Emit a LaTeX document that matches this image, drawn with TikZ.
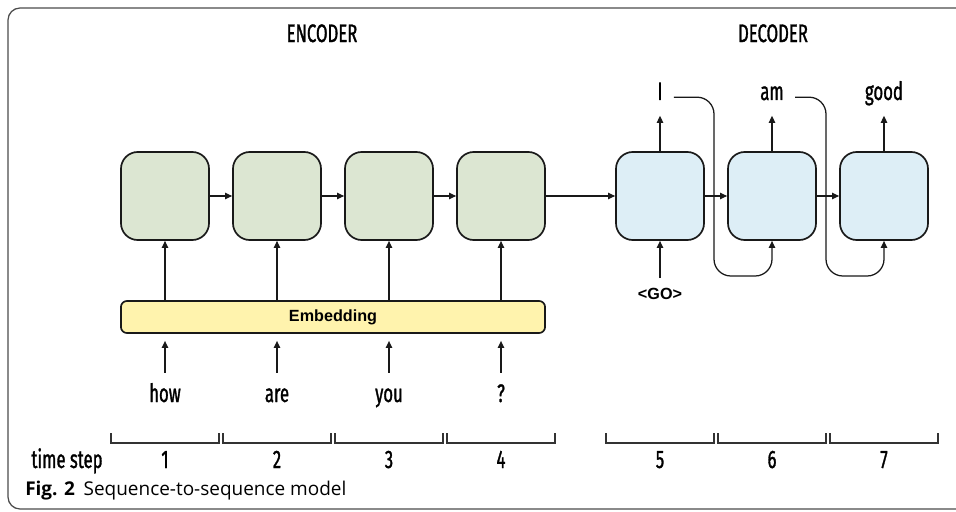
\documentclass[tikz,border=0pt]{standalone}
\usepackage{fontspec}
\setmainfont{Fira Sans}
\newfontfamily\condfont[FakeStretch=0.66, FakeBold=1.2]{Fira Sans}
\newfontfamily\capfont{Open Sans}
\newfontfamily\embfont{Liberation Sans}
\usetikzlibrary{positioning, calc, arrows.meta}

\definecolor{enccol}{RGB}{220,230,210}
\definecolor{deccol}{RGB}{221,238,246}
\definecolor{embcol}{RGB}{255,243,173}

\tikzset{
  cell/.style={draw=black!90, line width=1.2pt, rounded corners=0.42cm,
    minimum width=2.2cm, minimum height=2.2cm, inner sep=0pt},
  enccell/.style={cell, fill=enccol},
  deccell/.style={cell, fill=deccol},
  lab/.style={font=\condfont\fontsize{18}{18}\selectfont, inner sep=1pt,
    text height=13.5pt, text depth=3.5pt},
  arr/.style={-{Triangle[length=5pt,width=4.5pt]}, line width=0.9pt, black!90},
  brk/.style={line width=1pt, black!80},
}

\begin{document}
\begin{tikzpicture}[x=0.025cm, y=-0.025cm]
    \clip (0,0) rectangle (956,512);

    % outer frame
    \draw[black!70, line width=0.9pt, rounded corners=0.3cm] (8,8) rectangle (990,509);

    % headings
    \node[lab] (enchead) at (322,35) {ENCODER};
    \node[lab] (dechead) at (773,35) {DECODER};

    % encoder cells
    \foreach \i/\x in {1/165,2/277,3/389,4/501}
        \node[enccell] (e\i) at (\x,196) {};

    % decoder cells
    \foreach \i/\x in {1/660,2/772,3/884}
        \node[deccell] (d\i) at (\x,196) {};

    % embedding layer
    \node[draw=black!90, line width=1.2pt, fill=embcol, rounded corners=0.15cm,
          minimum width=10.6cm, minimum height=0.8cm, inner sep=0pt,
          font=\embfont\bfseries\fontsize{11.5}{11.5}\selectfont] (emb) at (333,317) {Embedding};

    % input words
    \node[lab, anchor=base] (w1) at (165,402) {how};
    \node[lab, anchor=base] (w2) at (277,402) {are};
    \node[lab, anchor=base] (w3) at (389,402) {you};
    \node[lab, anchor=base] (w4) at (501,402) {?};

    % output words
    \node[lab, anchor=base] (o1) at (660,100) {I};
    \node[lab, anchor=base] (o2) at (772,100) {am};
    \node[lab, anchor=base] (o3) at (884,100) {good};

    % start token
    \node[inner sep=1pt, font=\embfont\bfseries\fontsize{11.5}{11.5}\selectfont] (go) at (660,294) {<GO>};

    % recurrent links
    \foreach \i/\j in {1/2,2/3,3/4}
        \draw[arr] (e\i) -- (e\j);
    \draw[arr] (e4) -- (d1);
    \draw[arr] (d1) -- (d2);
    \draw[arr] (d2) -- (d3);

    % inputs through the embedding
    \foreach \i in {1,...,4} {
        \draw[arr, shorten <=6pt, shorten >=5pt] (w\i.north) -- (emb.south -| w\i.north);
        \draw[arr] (emb.north -| e\i) -- (e\i.south);
    }

    % decoder outputs
    \foreach \i in {1,2,3}
        \draw[arr, shorten >=6.5pt] (d\i.north) -- (o\i.south);
    \draw[arr, shorten <=6pt] (go.north) -- (d1.south);

    % feed previous output back in
    \coordinate (loop1) at (714,276);
    \coordinate (loop2) at (826,276);
    \draw[arr, rounded corners=12pt] ([shift={(7pt,2pt)}]o1.base east) -| (loop1) -| (d2.south);
    \draw[arr, rounded corners=12pt] ([shift={(7pt,2pt)}]o2.base east) -| (loop2) -| (d3.south);

    % time steps
    \foreach \x [count=\n] in {165,277,389,501,660,772,884} {
        \draw[brk] (\x-54,433) -- (\x-54,443) -- (\x+54,443) -- (\x+54,433);
        \node[lab, anchor=base] (t\n) at (\x,468) {\n};
    }
    \node[lab, anchor=base] (tslabel) at (67,468) {time step};

    % caption
    \node[anchor=base west, inner sep=0pt, font=\capfont\fontsize{13.5}{13.5}\selectfont]
        (cap) at (25,495) {\textbf{Fig. 2}\hspace{0.45em}Sequence-to-sequence model};
\end{tikzpicture}
\end{document}
